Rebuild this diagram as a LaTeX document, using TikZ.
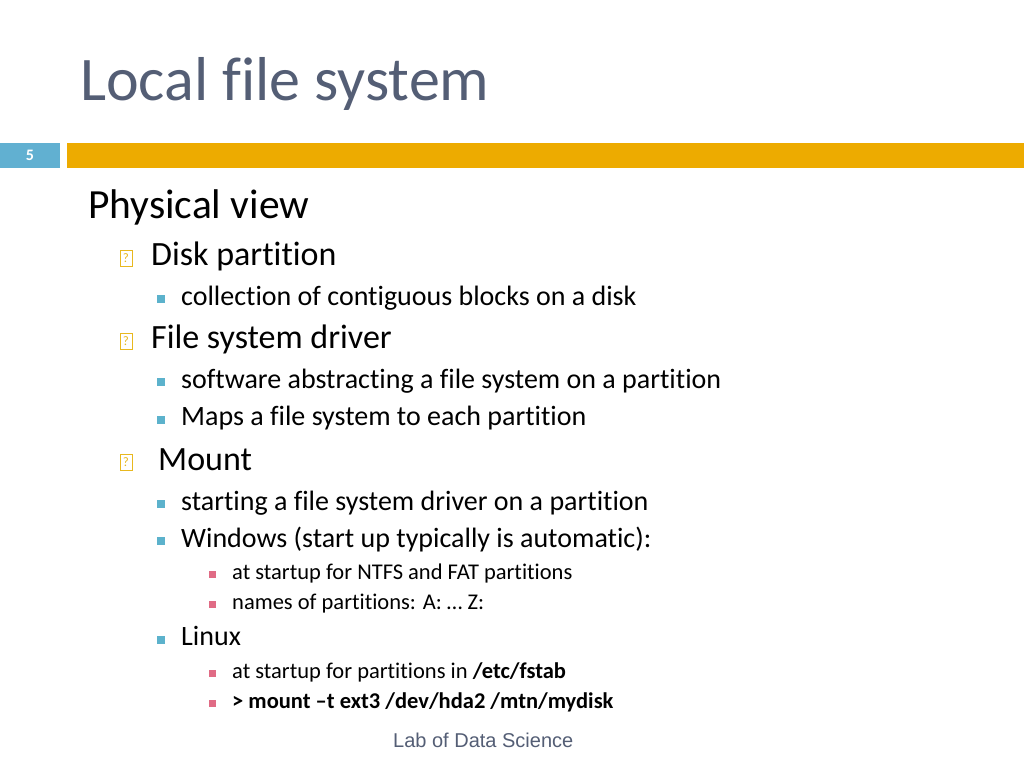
\documentclass[tikz,border=0pt]{standalone}
\usepackage{fontspec}
\setmainfont{Carlito}[Ligatures={NoCommon}]
\newfontfamily\footfont{Liberation Sans}
\definecolor{titlecolor}{rgb}{0.33,0.37,0.46}
\definecolor{numbox}{rgb}{0.38,0.69,0.82}
\definecolor{barorange}{rgb}{0.93,0.67,0.0}
\definecolor{bulletyellow}{rgb}{0.91,0.72,0.12}
\definecolor{bulletteal}{rgb}{0.36,0.70,0.80}
\definecolor{bulletpink}{rgb}{0.88,0.42,0.52}
\begin{document}
\begin{tikzpicture}[x=1pt,y=-1pt]
		% STYLES
		\tikzset{
			txt/.style={anchor=base west, inner sep=0pt},
			lvlone/.style={txt, font=\fontsize{41.5}{44}\selectfont},
			lvltwo/.style={txt, font=\fontsize{34}{38}\selectfont},
			lvlthree/.style={txt, font=\fontsize{28}{32}\selectfont},
			lvlfour/.style={txt, font=\fontsize{22.5}{26}\selectfont},
			qbox/.style={draw=bulletyellow, line width=0.8pt, minimum width=12pt, minimum height=16pt, inner sep=0pt, text=bulletyellow, font=\fontsize{13}{14}\selectfont},
			sqteal/.style={fill=bulletteal, minimum size=8pt, inner sep=0pt},
			sqpink/.style={fill=bulletpink, minimum size=7pt, inner sep=0pt}
		}

		% FOND
		\useasboundingbox (0,0) rectangle (1024,768);
		\fill[white] (0,0) rectangle (1024,768);

		% TITRE
		\node[txt, text=titlecolor, font=\fontsize{62}{66}\selectfont] (title) at (80,100) {Local file system};
		\fill[numbox] (0,143) rectangle (60,168);
		\node[text=white, font=\bfseries\fontsize{16}{17}\selectfont] (num) at (30,155) {5};
		\fill[barorange] (67,143) rectangle (1024,168);

		% TEXTE
		\node[lvlone] (phys) at (88,218) {Physical view};

		\node[qbox] (b1) at (126,258) {?};
		\node[lvltwo] (disk) at (151,265) {Disk partition};
		\node[sqteal] (s1) at (161,299) {};
		\node[lvlthree] (coll) at (181,305) {collection of contiguous blocks on a disk};

		\node[qbox] (b2) at (126,341) {?};
		\node[lvltwo] (drv) at (151,348) {File system driver};
		\node[sqteal] (s2) at (161,382) {};
		\node[lvlthree] (soft) at (181,388) {software abstracting a file system on a partition};
		\node[sqteal] (s3) at (161,420) {};
		\node[lvlthree] (maps) at (181,425) {Maps a file system to each partition};

		\node[qbox] (b3) at (126,462) {?};
		\node[lvltwo] (mnt) at (158,470) {Mount};
		\node[sqteal] (s4) at (161,504) {};
		\node[lvlthree] (start) at (181,510) {starting a file system driver on a partition};
		\node[sqteal] (s5) at (161,541) {};
		\node[lvlthree] (win) at (181,547) {Windows (start up typically is automatic):};
		\node[sqpink] (p1) at (212,574) {};
		\node[lvlfour] (ntfs) at (232,579) {at startup for NTFS and FAT partitions};
		\node[sqpink] (p2) at (212,604) {};
		\node[lvlfour] (names) at (232,609) {names of partitions: A: … Z:};
		\node[sqteal] (s6) at (161,640) {};
		\node[lvlthree] (linux) at (181,645) {Linux};
		\node[sqpink] (p3) at (212,673) {};
		\node[lvlfour] (fstab) at (232,678) {at startup for partitions in \textbf{/etc/fstab}};
		\node[sqpink] (p4) at (212,703) {};
		\node[lvlfour] (cmd) at (232,708) {\textbf{> mount –t ext3 /dev/hda2 /mtn/mydisk}};

		% PIED
		\node[txt, text=titlecolor, font=\footfont\fontsize{20}{23}\selectfont] (foot) at (393,747) {Lab of Data Science};
	\end{tikzpicture}
\end{document}
